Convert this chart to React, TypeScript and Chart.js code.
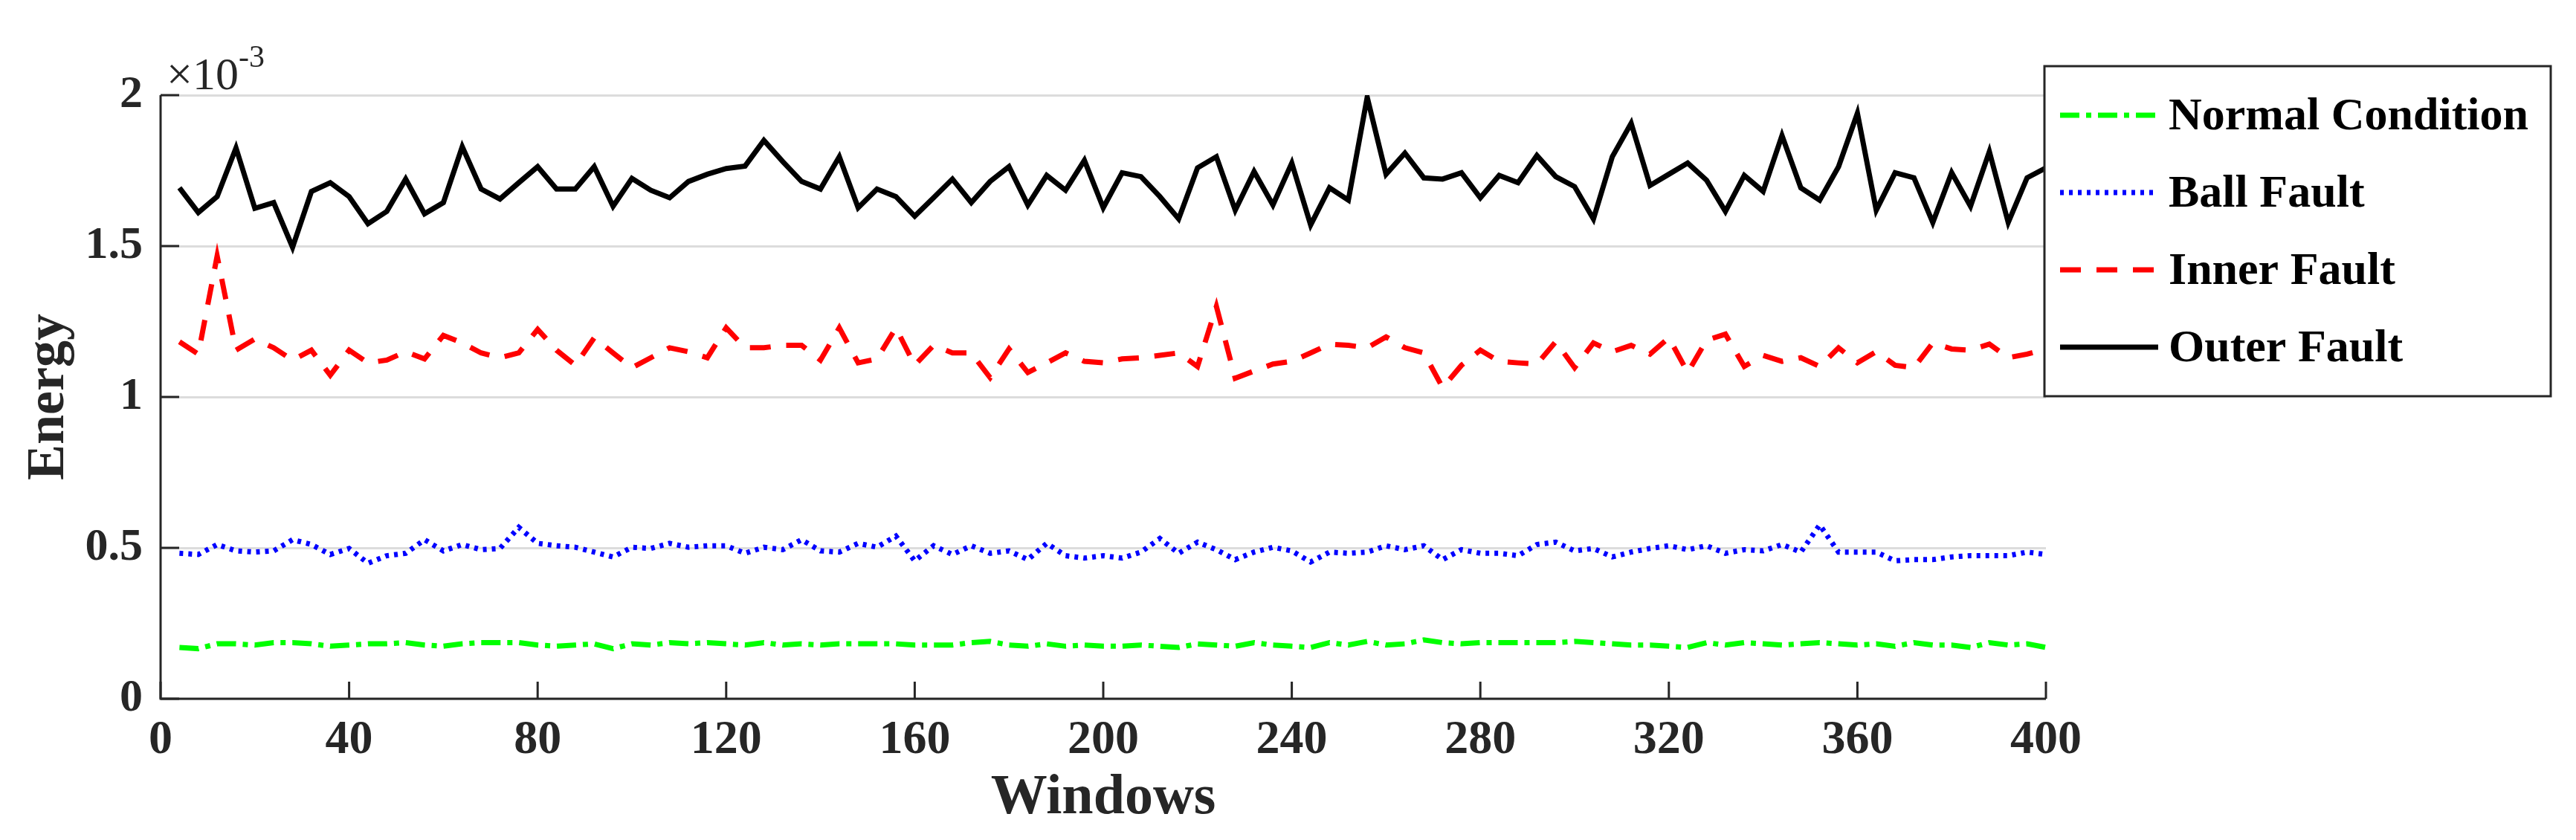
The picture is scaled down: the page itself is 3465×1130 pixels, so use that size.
import { useEffect, useRef } from "react";
import { Chart, registerables } from "chart.js";

Chart.register(...registerables);

// windows 4, 8, ..., 400
const windows: number[] = Array.from({ length: 100 }, (_, i) => (i + 1) * 4);

// energy values, in units of 1e-3
const normalCondition = [
    0.170, 0.166, 0.182, 0.182, 0.178, 0.186, 0.186, 0.182, 0.174, 0.178, 0.182, 0.182, 0.186, 0.178, 0.174, 0.182, 0.186, 0.186, 0.186, 0.178, 0.174, 0.178, 0.182, 0.166, 0.182,
    0.178, 0.186, 0.182, 0.186, 0.182, 0.178, 0.186, 0.178, 0.182, 0.178, 0.182, 0.182, 0.182, 0.182, 0.178, 0.178, 0.178, 0.186, 0.190, 0.178, 0.174, 0.182, 0.174, 0.178, 0.174,
    0.174, 0.178, 0.174, 0.170, 0.182, 0.178, 0.174, 0.186, 0.178, 0.174, 0.170, 0.186, 0.178, 0.190, 0.178, 0.182, 0.195, 0.186, 0.182, 0.186, 0.186, 0.186, 0.186, 0.186, 0.190,
    0.186, 0.182, 0.178, 0.178, 0.174, 0.170, 0.186, 0.178, 0.186, 0.182, 0.178, 0.182, 0.186, 0.182, 0.178, 0.182, 0.174, 0.186, 0.178, 0.178, 0.170, 0.186, 0.178, 0.182, 0.170,
];

const ballFault = [
    0.482, 0.478, 0.511, 0.490, 0.486, 0.490, 0.527, 0.511, 0.478, 0.498, 0.449, 0.474, 0.482, 0.527, 0.490, 0.511, 0.494, 0.498, 0.568, 0.515, 0.507, 0.502, 0.486, 0.470, 0.502,
    0.498, 0.515, 0.502, 0.507, 0.507, 0.482, 0.502, 0.494, 0.527, 0.490, 0.486, 0.515, 0.502, 0.539, 0.457, 0.507, 0.478, 0.507, 0.482, 0.490, 0.461, 0.515, 0.474, 0.466, 0.474,
    0.466, 0.486, 0.531, 0.482, 0.519, 0.494, 0.461, 0.486, 0.502, 0.490, 0.453, 0.486, 0.482, 0.486, 0.507, 0.494, 0.507, 0.461, 0.494, 0.482, 0.482, 0.474, 0.511, 0.519, 0.490,
    0.498, 0.470, 0.486, 0.498, 0.507, 0.494, 0.507, 0.482, 0.494, 0.490, 0.511, 0.486, 0.576, 0.486, 0.486, 0.486, 0.457, 0.461, 0.461, 0.470, 0.474, 0.474, 0.474, 0.486, 0.478,
];

const innerFault = [
    1.183, 1.142, 1.467, 1.155, 1.192, 1.163, 1.122, 1.155, 1.072, 1.155, 1.113, 1.122, 1.150, 1.126, 1.204, 1.179, 1.146, 1.130, 1.146, 1.224, 1.155, 1.105, 1.196, 1.146, 1.097,
    1.130, 1.163, 1.150, 1.130, 1.229, 1.163, 1.163, 1.171, 1.171, 1.122, 1.229, 1.113, 1.126, 1.229, 1.105, 1.171, 1.146, 1.146, 1.064, 1.159, 1.081, 1.113, 1.146, 1.118, 1.113,
    1.126, 1.130, 1.138, 1.146, 1.101, 1.300, 1.062, 1.086, 1.109, 1.118, 1.146, 1.175, 1.171, 1.163, 1.199, 1.163, 1.146, 1.031, 1.105, 1.155, 1.118, 1.113, 1.109, 1.183, 1.097,
    1.179, 1.150, 1.171, 1.142, 1.196, 1.081, 1.188, 1.208, 1.101, 1.138, 1.118, 1.130, 1.101, 1.163, 1.113, 1.150, 1.105, 1.097, 1.179, 1.159, 1.155, 1.175, 1.130, 1.142, 1.159,
];

const outerFault = [
    1.693, 1.611, 1.664, 1.825, 1.625, 1.644, 1.496, 1.681, 1.710, 1.664, 1.574, 1.615, 1.722, 1.607, 1.644, 1.829, 1.689, 1.656, 1.710, 1.763, 1.689, 1.689, 1.763, 1.632, 1.724,
    1.685, 1.660, 1.714, 1.738, 1.757, 1.765, 1.850, 1.780, 1.714, 1.689, 1.796, 1.627, 1.689, 1.664, 1.599, 1.660, 1.722, 1.644, 1.714, 1.763, 1.636, 1.734, 1.685, 1.784, 1.627,
    1.743, 1.730, 1.664, 1.590, 1.759, 1.796, 1.619, 1.747, 1.636, 1.775, 1.570, 1.693, 1.652, 1.993, 1.738, 1.808, 1.726, 1.722, 1.743, 1.660, 1.734, 1.710, 1.800, 1.730, 1.697,
    1.590, 1.796, 1.907, 1.701, 1.738, 1.775, 1.718, 1.615, 1.734, 1.681, 1.866, 1.693, 1.652, 1.763, 1.940, 1.619, 1.743, 1.726, 1.578, 1.743, 1.632, 1.813, 1.578, 1.726, 1.759,
];

const FONT = "'Liberation Serif', 'Times New Roman', serif";
const AXIS_COLOR = "#262626";

const toPoints = (vals: number[]) => vals.map((v, i) => ({ x: windows[i], y: v }));

// axis lines, inward tick marks, x10^-3 label and boxed legend
const decorPlugin = {
    id: "decor",
    afterDraw(chart: any) {
        const { ctx, chartArea, scales } = chart;
        const { left, right, top, bottom } = chartArea;
        ctx.save();

        ctx.strokeStyle = AXIS_COLOR;
        ctx.lineWidth = 3;
        ctx.setLineDash([]);
        ctx.beginPath();
        ctx.moveTo(left, top);
        ctx.lineTo(left, bottom);
        ctx.lineTo(right, bottom);
        ctx.stroke();

        // tick marks pointing into the plot
        ctx.beginPath();
        scales.x.ticks.forEach((t: any) => {
            const px = scales.x.getPixelForValue(t.value);
            ctx.moveTo(px, bottom);
            ctx.lineTo(px, bottom - 23);
        });
        scales.y.ticks.forEach((t: any) => {
            const py = scales.y.getPixelForValue(t.value);
            ctx.moveTo(left, py);
            ctx.lineTo(left + 25, py);
        });
        ctx.stroke();

        // exponent label
        ctx.fillStyle = AXIS_COLOR;
        ctx.textBaseline = "alphabetic";
        ctx.textAlign = "left";
        ctx.font = `normal 62px ${FONT}`;
        ctx.fillText("\u00d710", left + 8, 120);
        const w = ctx.measureText("\u00d710").width;
        ctx.font = `normal 42px ${FONT}`;
        ctx.fillText("-3", left + 8 + w, 90);

        // legend box
        const bx = 2750, by = 89, bw = 681, bh = 444;
        ctx.fillStyle = "#ffffff";
        ctx.fillRect(bx, by, bw, bh);
        ctx.strokeStyle = AXIS_COLOR;
        ctx.lineWidth = 3;
        ctx.strokeRect(bx, by, bw, bh);

        chart.data.datasets.forEach((ds: any, i: number) => {
            const y = 155 + i * 104;
            ctx.save();
            ctx.strokeStyle = ds.borderColor;
            ctx.lineWidth = ds.borderWidth;
            ctx.setLineDash(ds.borderDash || []);
            ctx.beginPath();
            ctx.moveTo(2771, y);
            ctx.lineTo(2903, y);
            ctx.stroke();
            ctx.restore();

            ctx.fillStyle = "#000000";
            ctx.font = `bold 62px ${FONT}`;
            ctx.textBaseline = "middle";
            ctx.textAlign = "left";
            ctx.fillText(ds.label, 2917, y + 3);
        });

        ctx.restore();
    },
};

export default function App() {
    const canvasRef = useRef<HTMLCanvasElement>(null);

    useEffect(() => {
        if (!canvasRef.current) return;

        const chart = new Chart(canvasRef.current, {
            type: "line",
            data: {
                datasets: [
                    {
                        label: "Normal Condition",
                        data: toPoints(normalCondition),
                        borderColor: "#00ff00",
                        borderWidth: 7,
                        borderDash: [26, 9, 7, 9],
                        pointRadius: 0,
                        tension: 0,
                    },
                    {
                        label: "Ball Fault",
                        data: toPoints(ballFault),
                        borderColor: "#0000ff",
                        borderWidth: 7,
                        borderDash: [5, 7],
                        pointRadius: 0,
                        tension: 0,
                    },
                    {
                        label: "Inner Fault",
                        data: toPoints(innerFault),
                        borderColor: "#ff0000",
                        borderWidth: 7,
                        borderDash: [28, 21],
                        pointRadius: 0,
                        tension: 0,
                    },
                    {
                        label: "Outer Fault",
                        data: toPoints(outerFault),
                        borderColor: "#000000",
                        borderWidth: 7,
                        pointRadius: 0,
                        tension: 0,
                    },
                ],
            },
            options: {
                animation: false,
                responsive: true,
                maintainAspectRatio: false,
                layout: { padding: { top: 128, right: 713, left: 0, bottom: 0 } },
                plugins: {
                    legend: { display: false },
                    tooltip: { enabled: false },
                },
                scales: {
                    x: {
                        type: "linear",
                        min: 0,
                        max: 400,
                        grid: { display: false, drawTicks: false },
                        border: { display: false },
                        ticks: {
                            stepSize: 40,
                            padding: 18,
                            autoSkip: false,
                            maxRotation: 0,
                            color: AXIS_COLOR,
                            font: { family: FONT, size: 64, weight: "bold" },
                        },
                        title: {
                            display: true,
                            text: "Windows",
                            color: AXIS_COLOR,
                            font: { family: FONT, size: 76, weight: "bold" },
                            padding: { top: 0, bottom: 10 },
                        },
                        afterFit: (s: any) => {
                            s.height = 190;
                        },
                    },
                    y: {
                        min: 0,
                        max: 2,
                        grid: { color: "#dcdcdc", lineWidth: 3, drawTicks: false },
                        border: { display: false },
                        ticks: {
                            stepSize: 0.5,
                            padding: 24,
                            color: AXIS_COLOR,
                            font: { family: FONT, size: 62, weight: "bold" },
                            callback: (v: any) => String(Number(v)),
                        },
                        title: {
                            display: true,
                            text: "Energy",
                            color: AXIS_COLOR,
                            font: { family: FONT, size: 72, weight: "bold" },
                            padding: { top: 23, bottom: 0 },
                        },
                        afterFit: (s: any) => {
                            s.width = 216;
                        },
                    },
                },
            },
            plugins: [decorPlugin],
        });

        return () => {
            chart.destroy();
        };
    }, []);

    return (
        <div style={{ position: "fixed", left: 0, top: 0, width: 3465, height: 1130, background: "#ffffff" }}>
            <canvas ref={canvasRef}></canvas>
        </div>
    );
}
